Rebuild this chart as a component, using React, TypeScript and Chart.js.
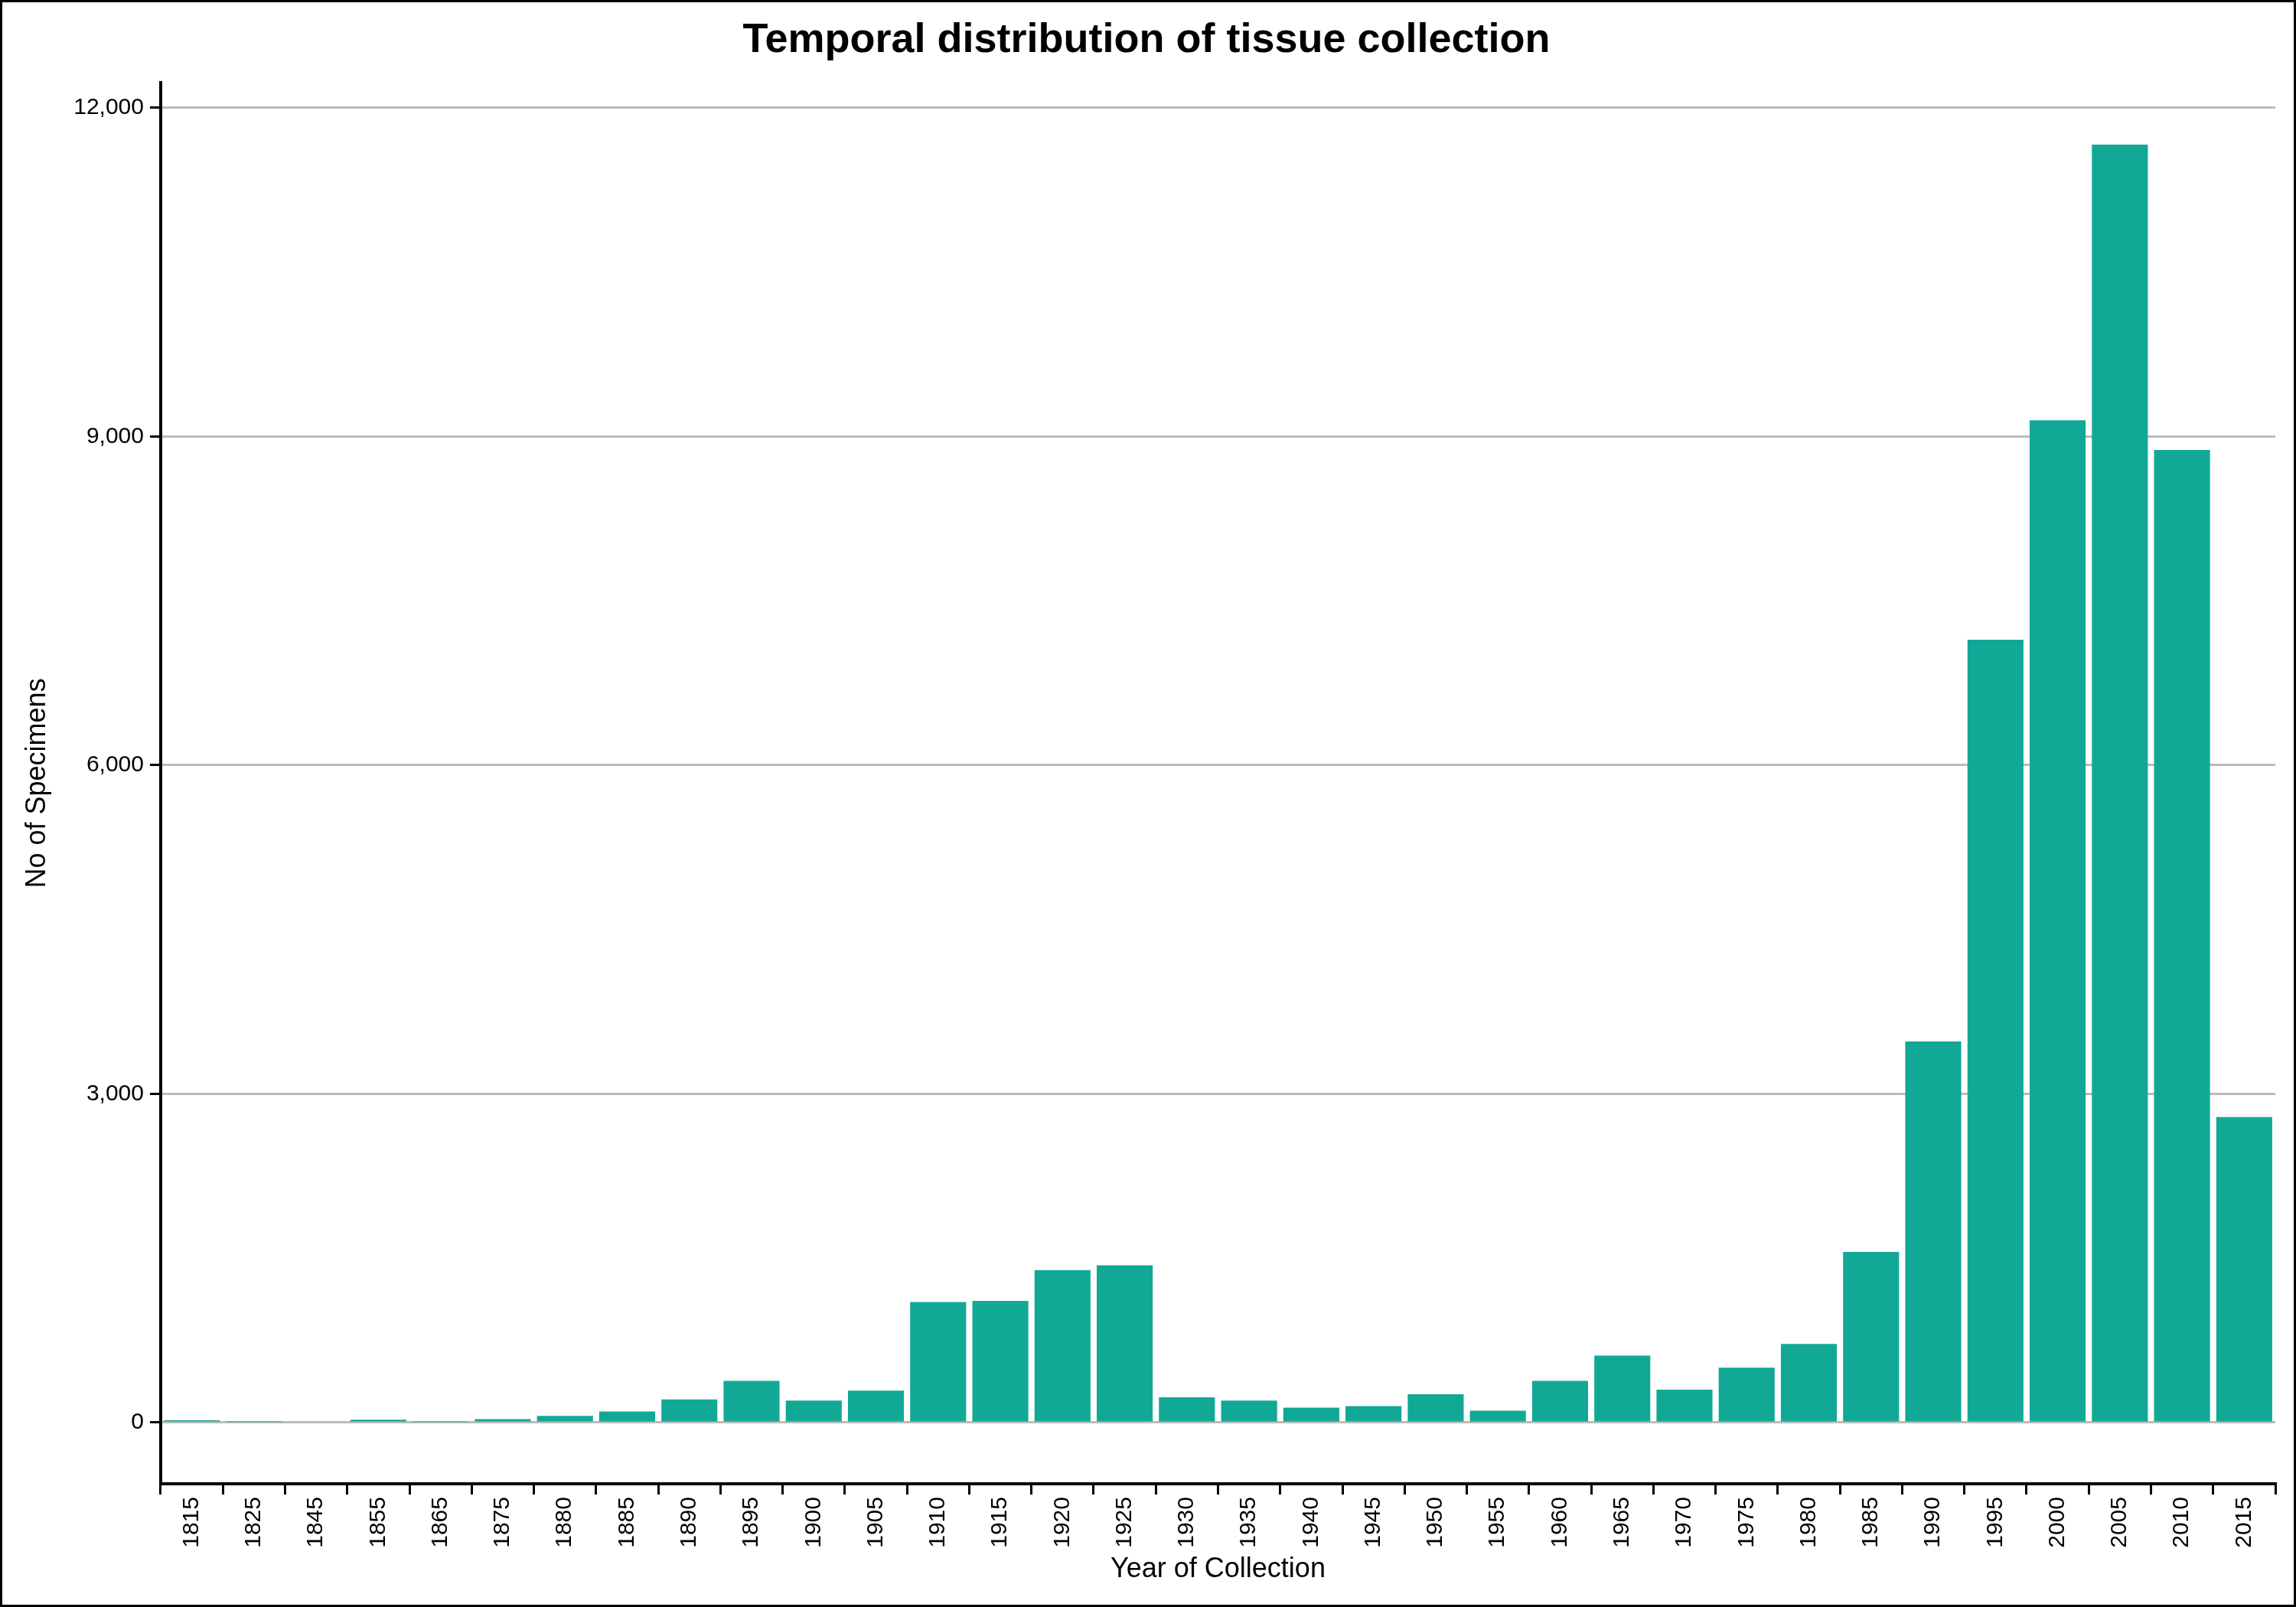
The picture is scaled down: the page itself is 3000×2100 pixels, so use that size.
import React, { useEffect, useRef } from "react";
import Chart from "chart.js/auto";

const years = ["1815","1825","1845","1855","1865","1875","1880","1885","1890","1895","1900","1905","1910","1915","1920","1925","1930","1935","1940","1945","1950","1955","1960","1965","1970","1975","1980","1985","1990","1995","2000","2005","2010","2015"];
const specimens = [20,4,10,25,5,30,60,100,210,380,200,290,1100,1110,1390,1434,230,200,135,150,257,108,380,610,300,500,717,1556,3477,7144,9147,11663,8877,2787];
const yTicks = [0, 3000, 6000, 9000, 12000];

const font = "'Liberation Sans', Arial, sans-serif";

const App: React.FC = () => {
  const ref = useRef<HTMLCanvasElement | null>(null);

  useEffect(() => {
    if (!ref.current) return;
    const chart = new Chart(ref.current, {
      type: "bar",
      data: {
        labels: years,
        datasets: [{ data: specimens, backgroundColor: "#12a896", barPercentage: 0.9, categoryPercentage: 1 }],
      },
      options: {
        animation: false,
        responsive: false,
        devicePixelRatio: 1,
        layout: { padding: { left: 20, right: 24, top: 10, bottom: 20 } },
        plugins: {
          legend: { display: false },
          tooltip: { enabled: false },
          title: {
            display: true,
            text: "Temporal distribution of tissue collection",
            color: "#000",
            font: { family: font, size: 54, weight: "bold" },
            padding: { top: 8, bottom: 22 },
          },
        },
        scales: {
          x: {
            border: { display: true, color: "#000", width: 4 },
            grid: { display: true, drawOnChartArea: false, color: "#000", lineWidth: 3, tickLength: 14 },
            ticks: { color: "#000", font: { family: font, size: 30 }, maxRotation: 90, minRotation: 90, autoSkip: false },
            title: { display: true, text: "Year of Collection", color: "#000", font: { family: font, size: 36 }, padding: { top: 4 } },
          },
          y: {
            min: -560,
            max: 12230,
            afterBuildTicks: (axis: any) => { axis.ticks = yTicks.map((v) => ({ value: v })); },
            border: { display: true, color: "#000", width: 4 },
            grid: { color: "#bbbbbb", lineWidth: 3, tickLength: 14, tickColor: "#000", tickBorderDash: [], },
            ticks: { color: "#000", font: { family: font, size: 30 }, padding: 8 },
            title: { display: true, text: "No of Specimens", color: "#000", font: { family: font, size: 36 }, padding: { bottom: 18 } },
          },
        },
      },
      plugins: [{
        id: "dots",
        beforeDatasetsDraw: () => {},
      }],
    });
    // dotted gridlines
    (chart.options.scales as any).y.border.dash = [];
    (chart.options.scales as any).y.grid.borderDash = [3, 9];
    chart.options.scales!.y!.border = { ...(chart.options.scales!.y!.border as any), dash: [] } as any;
    (chart.options.scales!.y!.grid as any).tickBorderDash = [];
    chart.update();
    return () => chart.destroy();
  }, []);

  return (
    <div style={{ position: "absolute", left: 0, top: 0, width: 3000, height: 2100, boxSizing: "border-box", border: "3px solid #000", background: "#fff" }}>
      <canvas ref={ref} width={2994} height={2094} style={{ display: "block" }} />
    </div>
  );
};

export default App;
